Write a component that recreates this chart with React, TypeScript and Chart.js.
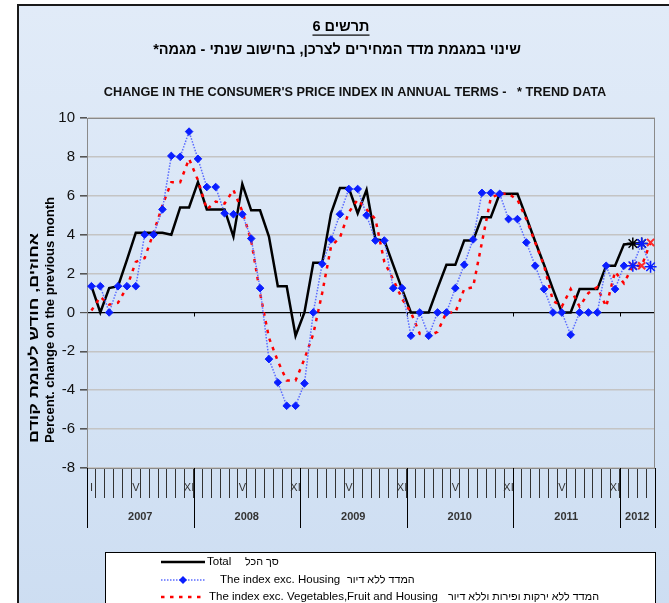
import { useEffect, useRef } from 'react';
import { Chart, registerables } from 'chart.js';

Chart.register(...registerables);

// ---------------- data ----------------
const YEARS = ['2007', '2008', '2009', '2010', '2011', '2012'];
const MONTHS_IN_YEAR = [12, 12, 12, 12, 12, 4];

const MONTH_TICK_LABELS = [
  'I', '', '', '', '', 'V', '', '', '', '', '', 'XI',
  '', '', '', '', '', 'V', '', '', '', '', '', 'XI',
  '', '', '', '', '', 'V', '', '', '', '', '', 'XI',
  '', '', '', '', '', 'V', '', '', '', '', '', 'XI',
  '', '', '', '', '', 'V', '', '', '', '', '', 'XI',
  '', '', '', '',
];

const CATEGORIES = YEARS.flatMap((yr, k) =>
  Array.from({ length: MONTHS_IN_YEAR[k] }, (_, m) => `${yr}-${m + 1}`)
);

// Total
const TOTAL = [
  1.35, 0, 1.25, 1.35, 2.7, 4.1, 4.1, 4.1, 4.1, 4.0, 5.4, 5.4,
  6.7, 5.3, 5.3, 5.3, 3.9, 6.6, 5.25, 5.25, 3.9, 1.35, 1.35, -1.2,
  0, 2.55, 2.55, 5.1, 6.4, 6.4, 5.1, 6.3, 3.75, 3.7, 2.45, 1.2,
  0, 0, 0, 1.25, 2.45, 2.45, 3.7, 3.7, 4.9, 4.9, 6.1, 6.1,
  6.1, 4.9, 3.65, 2.45, 1.2, 0, 0, 1.2, 1.2, 1.2, 2.4, 2.4,
  3.5, 3.55, 3.55, null,
];

// The index exc. Housing
const EXC_HOUSING = [
  1.35, 1.35, 0, 1.35, 1.35, 1.35, 4.0, 4.0, 5.3, 8.05, 8.0, 9.3,
  7.9, 6.45, 6.45, 5.1, 5.05, 5.05, 3.8, 1.25, -2.4, -3.6, -4.8, -4.8,
  -3.65, 0, 2.5, 3.75, 5.05, 6.35, 6.35, 5.0, 3.7, 3.7, 1.25, 1.25,
  -1.2, 0, -1.2, 0, 0, 1.25, 2.45, 3.75, 6.15, 6.15, 6.1, 4.8,
  4.8, 3.6, 2.4, 1.2, 0, 0, -1.15, 0, 0, 0, 2.4, 1.2,
  2.4, 2.4, 3.55, 2.35,
];

// The index exc. Vegetables, Fruit and Housing
const EXC_VEG_FRUIT_HOUSING = [
  0.1, 0.8, 0.4, 0.5, 1.3, 2.6, 2.8, 4.1, 5.5, 6.7, 6.7, 7.9,
  6.8, 5.3, 5.7, 5.6, 6.3, 5.2, 3.7, 1.0, -1.3, -2.5, -3.5, -3.5,
  -2.4, -1.1, 1.0, 3.4, 3.85, 5.15, 5.8, 5.3, 4.8, 2.6, 1.7, 0.7,
  0.0, -1.1, -1.2, -1.0, 0.0, 0.0, 1.2, 1.3, 3.6, 5.9, 6.1, 6.1,
  5.8, 4.8, 3.6, 2.4, 0.6, 0.3, 1.2, 0.3, 1.0, 1.3, 0.3, 2.1,
  1.5, 2.4, 2.4, 3.6,
];

const TREND_FROM = 61; // first point drawn with "trend" markers

const SERIES_EN = ['Total', 'The index exc. Housing', 'The index exc. Vegetables,Fruit and Housing'];
const SERIES_HE = ['סך הכל', 'המדד ללא דיור', 'המדד ללא ירקות ופירות וללא דיור'];

const TITLE_1 = 'תרשים 6';
const TITLE_2 = 'שינוי במגמת מדד המחירים לצרכן, בחישוב שנתי - מגמה*';
const TITLE_3 = "CHANGE IN THE CONSUMER'S PRICE INDEX IN ANNUAL TERMS -   * TREND DATA";
const Y_TITLE_HE = 'אחוזים, חודש לעומת קודם';
const Y_TITLE_EN = 'Percent. change on the previous month';

const FONT = '"Liberation Sans", Arial, sans-serif';

// ---------------- plugin for frame texts, year axis, legend ----------------
const decorPlugin = {
  id: 'decor',
  beforeDatasetsDraw(chart: any) {
    const { ctx, chartArea: ca, scales } = chart;
    const x = scales.x;
    const y = scales.y;
    ctx.save();
    const half = (x.getPixelForValue(1) - x.getPixelForValue(0)) / 2;
    const y0 = Math.round(y.getPixelForValue(0)) + 0.5;
    ctx.strokeStyle = '#000';
    ctx.lineWidth = 1;
    let idx = 0;
    for (let k = 0; k < MONTHS_IN_YEAR.length - 1; k++) {
      idx += MONTHS_IN_YEAR[k];
      const px = Math.round(x.getPixelForValue(idx) - half) + 0.5;
      ctx.beginPath();
      ctx.moveTo(px, y0);
      ctx.lineTo(px, y0 + 4);
      ctx.stroke();
    }
    ctx.strokeStyle = '#8a8a8a';
    ctx.strokeRect(ca.left + 0.5, ca.top + 0.5, ca.right - ca.left - 1, ca.bottom - ca.top);
    ctx.restore();
  },
  afterDraw(chart: any) {
    const { ctx, chartArea: ca, scales } = chart;
    const x = scales.x;
    ctx.save();

    // ---- year separators and labels ----
    const half = (x.getPixelForValue(1) - x.getPixelForValue(0)) / 2;
    let start = 0;
    ctx.strokeStyle = '#000';
    ctx.lineWidth = 1;
    const drawSep = (px: number) => {
      const p = Math.round(px) + 0.5;
      ctx.beginPath();
      ctx.moveTo(p, ca.bottom);
      ctx.lineTo(p, ca.bottom + 60);
      ctx.stroke();
    };
    drawSep(x.getPixelForValue(0) - half);
    ctx.fillStyle = '#333';
    ctx.font = `bold 11px ${FONT}`;
    ctx.textAlign = 'center';
    ctx.textBaseline = 'middle';
    YEARS.forEach((yr, k) => {
      const end = start + MONTHS_IN_YEAR[k] - 1;
      const l = x.getPixelForValue(start) - half;
      const r = x.getPixelForValue(end) + half;
      drawSep(r);
      ctx.fillText(yr, (l + r) / 2, ca.bottom + 49);
      start = end + 1;
    });

    // ---- titles ----
    ctx.fillStyle = '#000';
    ctx.textBaseline = 'middle';
    ctx.textAlign = 'center';
    ctx.direction = 'rtl';
    ctx.font = `bold 14.5px ${FONT}`;
    ctx.fillText(TITLE_1, 341, 27);
    const w1 = ctx.measureText(TITLE_1).width;
    ctx.fillRect(341 - w1 / 2, 34.5, w1, 1.2);
    ctx.font = `bold 14.5px ${FONT}`;
    ctx.fillText(TITLE_2, 337, 50);
    ctx.direction = 'ltr';
    ctx.font = `bold 12.7px ${FONT}`;
    ctx.fillStyle = '#111';
    ctx.fillText(TITLE_3, 355, 92);

    // ---- y axis title (rotated) ----
    ctx.fillStyle = '#000';
    ctx.textAlign = 'left';
    const yTitles: [string, number, number, number][] = [
      [Y_TITLE_HE, 34, 210, 13],
      [Y_TITLE_EN, 50, 246, 13],
    ];
    yTitles.forEach(([t, px, target, size]) => {
      ctx.save();
      ctx.font = `bold ${size}px ${FONT}`;
      const w = ctx.measureText(t).width;
      ctx.translate(px, 443);
      ctx.rotate(-Math.PI / 2);
      ctx.scale(Math.max(1, target / w), 1);
      ctx.fillText(t, 0, 0);
      ctx.restore();
    });

    // ---- legend ----
    const bx = 105.5, by = 552.5;
    ctx.fillStyle = '#fff';
    ctx.fillRect(bx, by, 550, 60);
    ctx.strokeStyle = '#000';
    ctx.lineWidth = 1;
    ctx.strokeRect(bx, by, 550, 60);
    const rows = [562, 580, 597];
    const textX = [207, 220, 209];
    const heX = [245, 347, 448];
    chart.data.datasets.forEach((ds: any, i: number) => {
      const ly = rows[i];
      ctx.save();
      ctx.strokeStyle = ds.borderColor;
      ctx.lineWidth = ds.borderWidth;
      ctx.setLineDash(ds.borderDash || []);
      ctx.beginPath();
      ctx.moveTo(161, ly);
      ctx.lineTo(205, ly);
      ctx.stroke();
      ctx.restore();
      if (i === 1) {
        ctx.fillStyle = ds.pointBackgroundColor;
        ctx.beginPath();
        ctx.moveTo(183, ly - 4);
        ctx.lineTo(187, ly);
        ctx.lineTo(183, ly + 4);
        ctx.lineTo(179, ly);
        ctx.closePath();
        ctx.fill();
      }
      ctx.fillStyle = '#000';
      ctx.textAlign = 'left';
      ctx.textBaseline = 'middle';
      ctx.font = `11.5px ${FONT}`;
      ctx.fillText(SERIES_EN[i], textX[i], ly);
      ctx.font = `10.8px ${FONT}`;
      ctx.fillText(SERIES_HE[i], heX[i], ly);
    });

    ctx.restore();
  },
};

export default function App() {
  const ref = useRef<HTMLCanvasElement>(null);

  useEffect(() => {
    const isTrend = (c: any) => c.dataIndex >= TREND_FROM;
    const chart = new Chart(ref.current as HTMLCanvasElement, {
      type: 'line',
      data: {
        labels: CATEGORIES,
        datasets: [
          {
            label: SERIES_EN[0],
            data: TOTAL,
            borderColor: '#000000',
            borderWidth: 2.5,
            pointStyle: 'star',
            pointRadius: (c: any) => (isTrend(c) ? 6 : 0),
            pointBorderColor: '#000000',
            pointBackgroundColor: '#000000',
            pointBorderWidth: 1.5,
            tension: 0,
            order: 2,
            clip: false,
          } as any,
          {
            label: SERIES_EN[1],
            data: EXC_HOUSING,
            borderColor: '#5b6cff',
            borderWidth: 1.5,
            borderDash: [1.5, 1.5],
            pointStyle: (c: any) => (isTrend(c) ? 'star' : 'rectRot'),
            pointRadius: (c: any) => (isTrend(c) ? 6 : 3.8),
            pointBorderColor: '#0a1eff',
            pointBackgroundColor: '#0a1eff',
            pointBorderWidth: (c: any) => (isTrend(c) ? 1.5 : 1),
            tension: 0,
            order: 0,
            clip: false,
          } as any,
          {
            label: SERIES_EN[2],
            data: EXC_VEG_FRUIT_HOUSING,
            borderColor: '#ff0000',
            borderWidth: 2.5,
            borderDash: [3.5, 5.5],
            pointStyle: 'crossRot',
            pointRadius: (c: any) => (isTrend(c) ? 5 : 0),
            pointBorderColor: '#ff2a2a',
            pointBackgroundColor: '#ff2a2a',
            pointBorderWidth: 2,
            tension: 0,
            order: 1,
            clip: false,
          } as any,
        ],
      },
      options: {
        responsive: false,
        animation: false,
        devicePixelRatio: 1,
        layout: { padding: { left: 0, top: 118, right: 14, bottom: 75 } },
        plugins: {
          legend: { display: false },
          title: { display: false },
          tooltip: { enabled: false },
        },
        scales: {
          x: {
            type: 'category',
            offset: true,
            grid: {
              offset: true,
              drawOnChartArea: false,
              tickLength: 30,
              color: '#333',
              lineWidth: 1,
            },
            border: { color: '#808080' },
            ticks: {
              autoSkip: false,
              maxRotation: 0,
              minRotation: 0,
              padding: -17,
              color: '#333',
              font: { family: FONT, size: 11 },
              callback: (_v: any, i: number) => MONTH_TICK_LABELS[i],
            },
            afterFit: (s: any) => {
              s.height = 60;
            },
          },
          y: {
            min: -8,
            max: 10,
            ticks: {
              stepSize: 2,
              padding: 5,
              color: '#111',
              font: { family: FONT, size: 15 },
            },
            grid: {
              color: (c: any) => (c.tick && c.tick.value === 0 ? '#000000' : '#c4c4c4'),
              lineWidth: (c: any) => (c.tick && c.tick.value === 0 ? 1.2 : 1.6),
              tickColor: '#555',
              tickLength: 7,
            },
            border: { color: '#808080' },
            afterFit: (s: any) => {
              s.width = 87;
            },
          },
        },
      },
      plugins: [decorPlugin],
    });
    return () => chart.destroy();
  }, []);

  return (
    <div
      style={{
        position: 'fixed',
        left: 0,
        top: 0,
        width: 669,
        height: 603,
        overflow: 'hidden',
        background: '#ffffff',
      }}
    >
      <div
        style={{
          position: 'absolute',
          left: 17,
          top: 4,
          width: 720,
          height: 660,
          borderLeft: '2px solid #1a1a1a',
          borderTop: '2px solid #1a1a1a',
          background: 'linear-gradient(to bottom, #e1ebf8 0%, #d6e4f5 50%, #cbdcf1 100%)',
        }}
      />
      <canvas
        ref={ref}
        width={669}
        height={603}
        style={{ position: 'absolute', left: 0, top: 0, width: 669, height: 603 }}
      />
    </div>
  );
}
